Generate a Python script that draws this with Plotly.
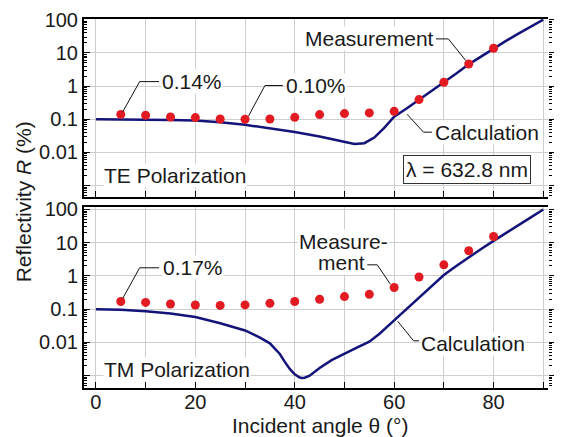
import plotly.graph_objects as go

# ---------------- data ----------------
# measured reflectivity (%) at incident angles 5..80 deg
meas_angle = [5, 10, 15, 20, 25, 30, 35, 40, 45, 50, 55, 60, 65, 70, 75, 80]
te_meas = [0.14, 0.132, 0.117, 0.112, 0.102, 0.10, 0.102, 0.114, 0.138, 0.148,
           0.155, 0.173, 0.39, 1.3, 4.6, 13.8]
tm_meas = [0.17, 0.16, 0.143, 0.134, 0.13, 0.135, 0.15, 0.17, 0.20, 0.24,
           0.28, 0.45, 0.93, 2.16, 5.75, 15.4]

# calculated reflectivity (%)
te_calc_angle = [0, 5, 10, 15, 20, 25, 30, 35, 40, 45, 50, 52, 54, 56, 58, 60,
                 62.5, 65, 67.5, 70, 72.5, 75, 77.5, 80, 82.5, 85, 87.5, 90]
te_calc = [0.100, 0.100, 0.098, 0.095, 0.091, 0.081, 0.068, 0.054, 0.041, 0.030,
           0.021, 0.018, 0.019, 0.028, 0.055, 0.12, 0.21, 0.38, 0.70, 1.3, 2.4,
           4.5, 7.8, 13.5, 23, 38, 62, 100]

tm_calc_angle = [0, 5, 10, 15, 20, 25, 30, 33, 35, 37, 38, 39, 40, 41, 41.5, 42,
                 43, 45, 47.5, 50, 52.5, 55, 57, 60, 62.5, 65, 67.5, 70, 72.5,
                 75, 77.5, 80, 82.5, 85, 87.5, 90]
tm_calc = [0.100, 0.097, 0.087, 0.074, 0.058, 0.038, 0.023, 0.014, 0.0094,
           0.0045, 0.0026, 0.0016, 0.0011, 0.00088, 0.00085, 0.00087, 0.0010,
           0.0017, 0.0030, 0.0047, 0.0070, 0.0105, 0.018, 0.046, 0.10, 0.23,
           0.50, 1.07, 2.0, 3.5, 6.5, 11.4, 20, 34, 58, 100]

x_ticks = [0, 10, 20, 30, 40, 50, 60, 70, 80, 90]
x_ticklabels = ["0", "", "20", "", "40", "", "60", "", "80", ""]
y_ticks = [0.001, 0.01, 0.1, 1, 10, 100]
y_ticklabels = ["", "0.01", "0.1", "1", "10", "100"]

# ---------------- style ----------------
FONT = "Liberation Sans, Arial, sans-serif"
RED = "#e21b23"
NAVY = "#14137a"
GRID = "#cfcfcf"
TXT = "#1a1a1a"

minor_vals = [m * 10 ** e for e in range(-4, 3) for m in range(2, 10)]

fig = go.Figure()

# calculation curves
fig.add_trace(go.Scatter(x=te_calc_angle, y=te_calc, mode="lines",
                         line=dict(color=NAVY, width=2.5), xaxis="x", yaxis="y",
                         showlegend=False, hoverinfo="skip"))
fig.add_trace(go.Scatter(x=tm_calc_angle, y=tm_calc, mode="lines",
                         line=dict(color=NAVY, width=2.5), xaxis="x2", yaxis="y2",
                         showlegend=False, hoverinfo="skip"))
# measurements
fig.add_trace(go.Scatter(x=meas_angle, y=te_meas, mode="markers",
                         marker=dict(color=RED, size=9), xaxis="x", yaxis="y",
                         showlegend=False))
fig.add_trace(go.Scatter(x=meas_angle, y=tm_meas, mode="markers",
                         marker=dict(color=RED, size=9), xaxis="x2", yaxis="y2",
                         showlegend=False))
# empty traces so the right-hand tick axes get drawn
fig.add_trace(go.Scatter(x=[], y=[], xaxis="x", yaxis="y3", showlegend=False))
fig.add_trace(go.Scatter(x=[], y=[], xaxis="x2", yaxis="y4", showlegend=False))


def leader(xs, ys, xa, ya):
    fig.add_trace(go.Scatter(x=xs, y=ys, mode="lines",
                             line=dict(color="#111111", width=1),
                             xaxis=xa, yaxis=ya, showlegend=False,
                             hoverinfo="skip"))


# leader lines (angle, reflectivity)
leader([5.4, 8.8, 12.7], [te_meas[0] * 1.2, 10 ** 0.134, 10 ** 0.134], "x", "y")
leader([30.7, 34.0, 37.6], [te_meas[5] * 1.25, 10 ** 0.015, 10 ** 0.015], "x", "y")
leader([68.4, 70.9, 74.4], [10 ** 1.42, 10 ** 1.42, 10 ** 0.77], "x", "y")
leader([62.6, 65.9, 67.6], [10 ** -0.85, 10 ** -1.39, 10 ** -1.39], "x", "y")
leader([5.4, 8.8, 12.7], [tm_meas[0] * 1.25, 10 ** 0.246, 10 ** 0.246], "x2", "y2")
leader([54.6, 56.6, 59.2], [10 ** 0.335, 10 ** 0.335, 10 ** -0.24], "x2", "y2")
leader([60.7, 63.9, 65.0], [10 ** -1.36, 10 ** -1.95, 10 ** -1.95], "x2", "y2")

x_range = [-2.4, 90.95]
top_dom = [0.517, 1.0]
bot_dom = [0.0, 0.491]


def xaxis(domain_anchor, labels):
    return dict(range=x_range, anchor=domain_anchor, tickmode="array",
                tickvals=x_ticks, ticktext=x_ticklabels if labels else [""] * len(x_ticks),
                ticks="inside", ticklen=6, tickwidth=1, tickcolor="black",
                ticklabelstandoff=-5,
                showline=True, linewidth=2, linecolor="black", mirror=True,
                showgrid=True, gridcolor=GRID, gridwidth=1, zeroline=False,
                tickfont=dict(family=FONT, size=20, color=TXT))


def yaxis(dom, anchor, rng):
    return dict(type="log", range=rng, domain=dom, anchor=anchor,
                tickmode="array", tickvals=y_ticks, ticktext=y_ticklabels,
                ticks="inside", ticklen=6, tickwidth=1, tickcolor="black",
                minor=dict(tickmode="array", tickvals=minor_vals, ticks="inside",
                           ticklen=3, tickcolor="black", showgrid=False),
                showline=True, linewidth=2, linecolor="black",
                showgrid=True, gridcolor=GRID, gridwidth=1, zeroline=False,
                tickfont=dict(family=FONT, size=20, color=TXT))


def yaxis_right(over, anchor, rng):
    return dict(type="log", range=rng, overlaying=over, side="right", anchor=anchor,
                tickmode="array", tickvals=y_ticks, ticktext=[""] * len(y_ticks),
                ticks="outside", ticklen=5, tickcolor="black",
                minor=dict(tickmode="array", tickvals=minor_vals, ticks="outside",
                           ticklen=3, tickcolor="black", showgrid=False),
                showline=False, showgrid=False, zeroline=False)


top_rng = [-3.35, 2.02]
bot_rng = [-3.37, 2.08]

fig.update_layout(
    width=562, height=437,
    margin=dict(l=84, r=9, t=13, b=49),
    paper_bgcolor="white", plot_bgcolor="white",
    font=dict(family=FONT, size=20, color=TXT),
    xaxis=xaxis("y", False),
    xaxis2=xaxis("y2", True),
    yaxis=yaxis(top_dom, "x", top_rng),
    yaxis2=yaxis(bot_dom, "x2", bot_rng),
    yaxis3=yaxis_right("y", "x", top_rng),
    yaxis4=yaxis_right("y2", "x2", bot_rng),
)


def note(text, x, ylog, xa, ya, anchor="left", **kw):
    fig.add_annotation(text=text, x=x, y=ylog, xref=xa, yref=ya, showarrow=False,
                       xanchor=anchor, yanchor="middle", bgcolor="white",
                       borderpad=0, font=dict(family=FONT, size=21, color=TXT), **kw)


# top panel labels
note("0.14%", 13.0, 0.134, "x", "y")
note("0.10%", 38.0, 0.015, "x", "y")
note("Measurement", 68.2, 1.42, "x", "y", anchor="right")
note("Calculation", 68.0, -1.39, "x", "y")
note("TE Polarization", 1.5, -2.70, "x", "y")
fig.add_annotation(text="λ = 632.8 nm", x=74.7, y=-2.52, xref="x", yref="y",
                   showarrow=False, xanchor="center", yanchor="middle",
                   bgcolor="white", bordercolor="#333333", borderwidth=1,
                   borderpad=2, font=dict(family=FONT, size=21, color=TXT))

# bottom panel labels
note("0.17%", 13.2, 0.246, "x2", "y2")
note("Measure-", 49.9, 1.05, "x2", "y2", anchor="center")
note("ment", 49.4, 0.42, "x2", "y2", anchor="center")
note("Calculation", 65.1, -2.03, "x2", "y2")
note("TM Polarization", 1.5, -2.81, "x2", "y2")

# axis titles
fig.add_annotation(text="Reflectivity <i>R</i> (%)", x=-0.13, y=0.505,
                   xref="paper", yref="paper", showarrow=False, textangle=-90,
                   xanchor="center", yanchor="middle",
                   font=dict(family=FONT, size=21, color=TXT))
fig.add_annotation(text="Incident angle θ (°)", x=0.51, y=-0.102,
                   xref="paper", yref="paper", showarrow=False,
                   xanchor="center", yanchor="middle",
                   font=dict(family=FONT, size=21, color=TXT))

fig.write_html("out.html")
